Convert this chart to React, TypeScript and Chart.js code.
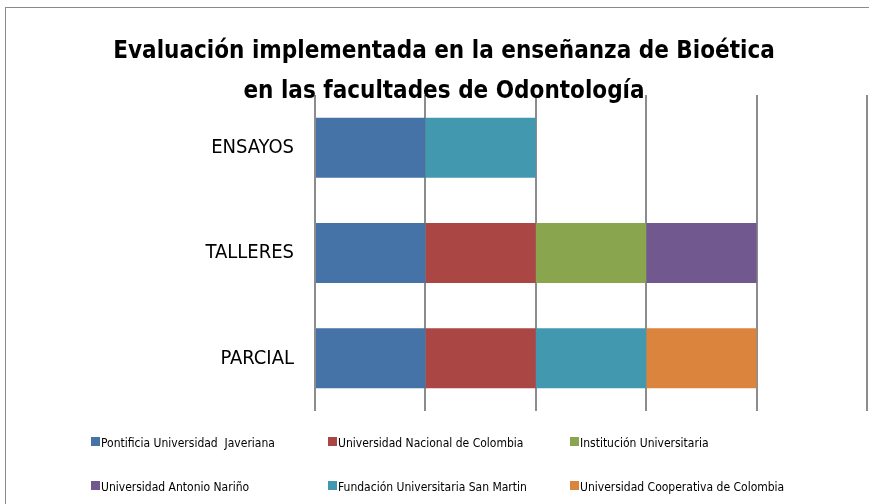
import React, { useEffect, useRef } from "react";
import { Chart, registerables } from "chart.js";

Chart.register(...registerables);

const categories = ["ENSAYOS", "TALLERES", "PARCIAL"];
const seriesNames = [
  "Pontificia Universidad  Javeriana",
  "Universidad Nacional de Colombia",
  "Institución Universitaria",
  "Universidad Antonio Nariño",
  "Fundación Universitaria San Martin",
  "Universidad Cooperativa de Colombia",
];
const javeriana = [1, 1, 1];
const nacional = [0, 1, 1];
const institucion = [0, 1, 0];
const narino = [0, 1, 0];
const sanMartin = [1, 0, 1];
const cooperativa = [0, 0, 1];
const seriesValues = [javeriana, nacional, institucion, narino, sanMartin, cooperativa];
const colors = ["#4572A7", "#AA4643", "#89A54E", "#71588F", "#4198AF", "#DB843D"];
const titleLines = [
  "Evaluación implementada en la enseñanza de Bioética",
  "en las facultades de Odontología",
];

const FONT = '"DejaVu Sans Condensed", "Liberation Sans Narrow", sans-serif';

export default function App() {
  const ref = useRef<HTMLCanvasElement>(null);
  useEffect(() => {
    if (!ref.current) return;
    const chart = new Chart(ref.current, {
      type: "bar",
      data: {
        labels: categories,
        datasets: seriesNames.map((name, i) => ({
          label: name,
          data: seriesValues[i],
          backgroundColor: colors[i],
          borderWidth: 0,
          categoryPercentage: 1,
          barPercentage: 0.57,
        })),
      },
      options: {
        indexAxis: "y",
        responsive: false,
        animation: false,
        layout: { padding: { top: 95, bottom: 93, left: 0, right: 2 } },
        plugins: {
          legend: { display: false },
          title: { display: false },
          tooltip: { enabled: false },
        },
        scales: {
          x: {
            stacked: true,
            min: 0,
            max: 5,
            ticks: { display: false, stepSize: 1 },
            grid: { color: "#8c8c8c", lineWidth: 2, drawTicks: false },
            border: { display: false },
            afterFit: (s: any) => {
              s.height = 0;
            },
          },
          y: {
            stacked: true,
            ticks: {
              padding: 21,
              color: "#000",
              font: { family: FONT, size: 20 },
            },
            grid: { display: false, drawTicks: false },
            border: { display: false },
            afterFit: (s: any) => {
              s.width = 315;
            },
          },
        },
      },
    });
    return () => chart.destroy();
  }, []);

  const legendCols = [91, 328, 570];
  const legendRows = [443, 487];

  return (
    <div style={{ position: "absolute", left: 0, top: 0, width: 869, height: 504, overflow: "hidden", background: "#fff" }}>
      <div style={{ position: "absolute", left: 5, top: 7, width: 900, height: 600, border: "1px solid #8a8a8a" }} />
      <canvas ref={ref} width={869} height={504} style={{ position: "absolute", left: 0, top: 0, width: 869, height: 504 }} />
      {titleLines.map((t, i) => (
        <div
          key={i}
          style={{
            position: "absolute",
            left: 444 - 400,
            width: 800,
            top: (i === 0 ? 50 : 90) - 20,
            height: 40,
            lineHeight: "40px",
            textAlign: "center",
            fontFamily: FONT,
            fontWeight: "bold",
            fontSize: 24,
            color: "#000",
            whiteSpace: "nowrap",
          }}
        >
          {t}
        </div>
      ))}
      {seriesNames.map((name, i) => {
        const x = legendCols[i % 3];
        const y = legendRows[Math.floor(i / 3)];
        return (
          <div
            key={name}
            style={{
              position: "absolute",
              left: x,
              top: y - 10,
              height: 20,
              lineHeight: "20px",
              fontFamily: FONT,
              fontSize: 12,
              color: "#000",
              whiteSpace: "pre",
              display: "flex",
              alignItems: "center",
            }}
          >
            <span style={{ display: "inline-block", width: 9, height: 9, background: colors[i], marginRight: 1, marginTop: -4 }} />
            <span>{name}</span>
          </div>
        );
      })}
    </div>
  );
}
